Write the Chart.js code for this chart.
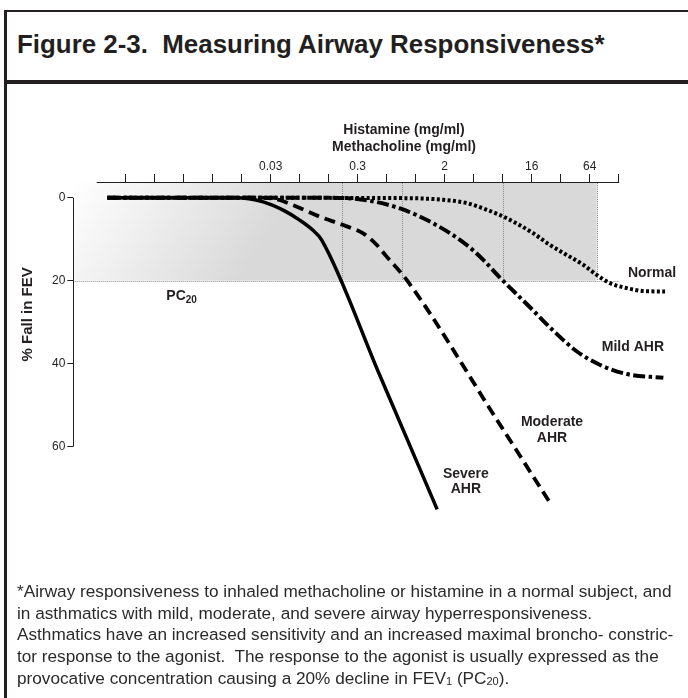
<!DOCTYPE html>
<html>
<head>
<meta charset="utf-8">
<script src="https://cdn.jsdelivr.net/npm/chart.js@4.4.1/dist/chart.umd.min.js"></script>
<style>
  html, body { margin: 0; padding: 0; background: #fff; }
  body { width: 688px; height: 698px; position: relative; overflow: hidden;
         font-family: "Liberation Sans", Arial, Helvetica, sans-serif; color: #231f20; }
  .rule { position: absolute; background: #231f20; }
  #title { position: absolute; left: 17px; top: 31px; font-size: 25.9px; line-height: 26px;
           font-weight: bold; white-space: nowrap; }
  #caption { position: absolute; left: 17px; top: 581px; font-size: 17.2px; line-height: 21.7px;
             color: #2a2a2a; white-space: nowrap; }
  #caption .sub { font-size: 11px; vertical-align: -1px; }
  #chart { position: absolute; left: 0; top: 0; }
</style>
</head>
<body>
<div class="rule" style="left:4px; top:10px; width:3px; height:700px;"></div>
<div class="rule" style="left:4px; top:10px; width:700px; height:2px;"></div>
<div class="rule" style="left:4px; top:80px; width:700px; height:3.5px;"></div>
<div id="title">Figure 2-3.&nbsp; Measuring Airway Responsiveness*</div>

<canvas id="chart" width="688" height="698"></canvas>

<div id="caption">*Airway responsiveness to inhaled methacholine or histamine in a normal subject, and<br>in asthmatics with mild, moderate, and severe airway hyperresponsiveness.<br>Asthmatics have an increased sensitivity and an increased maximal broncho- constric-<br>tor response to the agonist.&nbsp; The response to the agonist is usually expressed as the<br>provocative concentration causing a 20% decline in FEV<span class="sub">1</span> (PC<span class="sub">20</span>).</div>

<script>
  "use strict";

  // ___________ data (x = doubling-dose step, y = % fall in FEV1) ___________ //
  const doseSteps = [1, 2, 3, 4, 5, 6, 7, 8, 9, 10, 11, 12, 13, 14, 15, 16, 17, 18];
  const labelSteps = [6, 9, 12, 15, 17];
  const doseLabels = ["0.03", "0.3", "2", "16", "64"];
  const fallTicks = [0, 20, 40, 60];

  const severeAHR = [
    [0.37, 0], [4.8, 0], [5.74, 1], [6.43, 3], [7.0, 5.4], [7.45, 7.8],
    [7.76, 10.2], [9.75, 42.6], [11.74, 75.1],
  ];
  const moderateAHR = [
    [0.37, 0], [5.6, 0], [6.21, 0.4], [6.9, 2.2], [7.7, 4.6], [8.5, 6.6],
    [9.19, 8.6], [9.66, 11.4], [10.0, 14.2], [10.69, 19.8], [13.79, 53.4], [15.63, 73.5],
  ];
  const mildAHR = [
    [0.37, 0], [7.6, 0], [9.19, 0.5], [10.46, 2.6], [11.61, 6.2], [12.76, 11.4],
    [13.33, 15.0], [13.91, 19.3], [14.94, 26.4], [15.74, 32.0], [16.55, 37.0],
    [17.36, 40.3], [18.28, 42.5], [19.54, 43.4],
  ];
  const normal = [
    [0.37, 0], [10.46, 0.1], [11.95, 0.5], [12.76, 1.3], [13.33, 2.6], [13.91, 4.2],
    [14.48, 6.2], [15.06, 8.6], [15.63, 11.4], [16.21, 13.8], [16.78, 16.2],
    [17.24, 18.6], [17.7, 20.6], [18.28, 21.8], [18.85, 22.5], [19.6, 22.6],
  ];
  const pc20Steps = [8.47, 10.53, 14.0, 17.24];
  const pc20Level = 20;

  const INK = "#231f20";
  const FONT = "'Liberation Sans', Arial, sans-serif";
  const toPoints = (arr) => arr.map(([x, y]) => ({ x: x, y: y }));

  // ___________ background, axis lines, annotations ___________ //
  const overlay = {
    id: "overlay",
    beforeDatasetsDraw(chart) {
      const { ctx, chartArea: a, scales: { x, y } } = chart;
      const y0 = y.getPixelForValue(0);
      const y20 = y.getPixelForValue(pc20Level);
      const y60 = y.getPixelForValue(fallTicks[fallTicks.length - 1]);
      const xStart = x.getPixelForValue(0);
      const xEnd = x.getPixelForValue(doseSteps[doseSteps.length - 1]);
      const xShade = x.getPixelForValue(pc20Steps[pc20Steps.length - 1]);

      ctx.save();
      // shaded band above PC20
      const g = ctx.createLinearGradient(a.left, a.top, a.left + 160, a.top + 105);
      g.addColorStop(0, "#ffffff");
      g.addColorStop(1, "#d9d9d9");
      ctx.fillStyle = g;
      ctx.fillRect(a.left + 1, a.top + 1, xShade - a.left - 1, y20 - a.top - 1);

      // dotted PC20 guides
      ctx.strokeStyle = "#8a8a8a";
      ctx.lineWidth = 1;
      ctx.setLineDash([1, 1]);
      ctx.beginPath();
      ctx.moveTo(a.left, Math.round(y20) + 0.5);
      ctx.lineTo(xEnd, Math.round(y20) + 0.5);
      pc20Steps.forEach((s) => {
        const px = Math.round(x.getPixelForValue(s)) + 0.5;
        ctx.moveTo(px, a.top + 1);
        ctx.lineTo(px, y20);
      });
      ctx.stroke();

      // axis lines
      ctx.setLineDash([]);
      ctx.strokeStyle = INK;
      ctx.beginPath();
      ctx.moveTo(xStart, Math.round(a.top) + 0.5);
      ctx.lineTo(xEnd + 0.5, Math.round(a.top) + 0.5);
      ctx.moveTo(Math.round(a.left) + 0.5, y0);
      ctx.lineTo(Math.round(a.left) + 0.5, y60);
      ctx.stroke();

      // x axis title (two lines, sits right of centre)
      ctx.fillStyle = INK;
      ctx.font = "bold 14px " + FONT;
      ctx.textAlign = "center";
      ctx.textBaseline = "alphabetic";
      ctx.fillText("Histamine (mg/ml)", 404, 133.5);
      ctx.fillText("Methacholine (mg/ml)", 404, 150.5);

      // PC20 label
      const pcX = x.getPixelForValue(2.4);
      const pcY = y.getPixelForValue(24.6);
      ctx.textAlign = "left";
      ctx.fillText("PC", pcX, pcY);
      const w = ctx.measureText("PC").width;
      ctx.font = "bold 10px " + FONT;
      ctx.fillText("20", pcX + w, pcY + 3.5);
      ctx.restore();
    },
    afterDatasetsDraw(chart) {
      const { ctx, scales: { x, y } } = chart;
      const notes = [
        ["Normal", 19.15, 18.1],
        ["Mild AHR", 18.49, 36.1],
        ["Moderate", 15.7, 54.2],
        ["AHR", 15.7, 57.9],
        ["Severe", 12.73, 66.7],
        ["AHR", 12.73, 70.3],
      ];
      ctx.save();
      ctx.fillStyle = INK;
      ctx.font = "bold 14px " + FONT;
      ctx.textAlign = "center";
      ctx.textBaseline = "middle";
      notes.forEach(([t, sx, sy]) => {
        ctx.fillText(t, x.getPixelForValue(sx), y.getPixelForValue(sy));
      });
      ctx.restore();
    },
  };

  const lineStyle = (label, data, dash, width) => ({
    label: label,
    data: toPoints(data),
    borderColor: "#000",
    borderWidth: width,
    borderDash: dash,
    borderCapStyle: "butt",
    borderJoinStyle: "round",
    pointRadius: 0,
    fill: false,
    clip: false,
    cubicInterpolationMode: "monotone",
  });

  const ctx = document.getElementById("chart").getContext("2d");
  const myChart = new Chart(ctx, {
    type: "line",
    data: {
      datasets: [
        lineStyle("Normal", normal, [3, 2.4], 4),
        lineStyle("Mild AHR", mildAHR, [12, 3.5, 3.5, 3.5], 4),
        lineStyle("Moderate AHR", moderateAHR, [11, 6], 3.8),
        lineStyle("Severe AHR", severeAHR, [], 3.5),
      ],
    },
    options: {
      responsive: false,
      animation: false,
      devicePixelRatio: 1,
      // chart area: step 0 -> 96.7px, step 20 -> 676.7px ; 0% -> 197.7px, 60% -> 446.7px
      layout: { padding: { left: 0, top: 0, right: 11.3, bottom: 251.3 } },
      plugins: {
        legend: { display: false },
        tooltip: { enabled: false },
      },
      scales: {
        x: {
          type: "linear",
          position: "top",
          min: -0.807,
          max: 20,
          afterFit: (s) => { s.height = 182; },
          afterBuildTicks: (s) => { s.ticks = doseSteps.map((v) => ({ value: v })); },
          ticks: {
            autoSkip: false,
            maxRotation: 0,
            padding: 0,
            color: INK,
            font: { size: 12, family: FONT },
            callback: (v) => {
              const i = labelSteps.indexOf(v);
              return i < 0 ? "" : doseLabels[i];
            },
          },
          grid: { drawOnChartArea: false, tickLength: 8, color: INK, lineWidth: 1 },
          border: { display: false },
        },
        y: {
          type: "linear",
          reverse: true,
          min: -3.78,
          max: 60,
          afterFit: (s) => { s.width = 73.3; },
          afterBuildTicks: (s) => { s.ticks = fallTicks.map((v) => ({ value: v })); },
          ticks: {
            padding: 2,
            color: INK,
            font: { size: 12, family: FONT },
          },
          grid: { drawOnChartArea: false, tickLength: 6, color: INK, lineWidth: 1 },
          border: { display: false },
          title: {
            display: true,
            text: "% Fall in FEV",
            color: INK,
            font: { size: 15, weight: "bold", family: FONT },
            padding: { top: 19, bottom: 0 },
          },
        },
      },
    },
    plugins: [overlay],
  });
</script>
</body>
</html>
